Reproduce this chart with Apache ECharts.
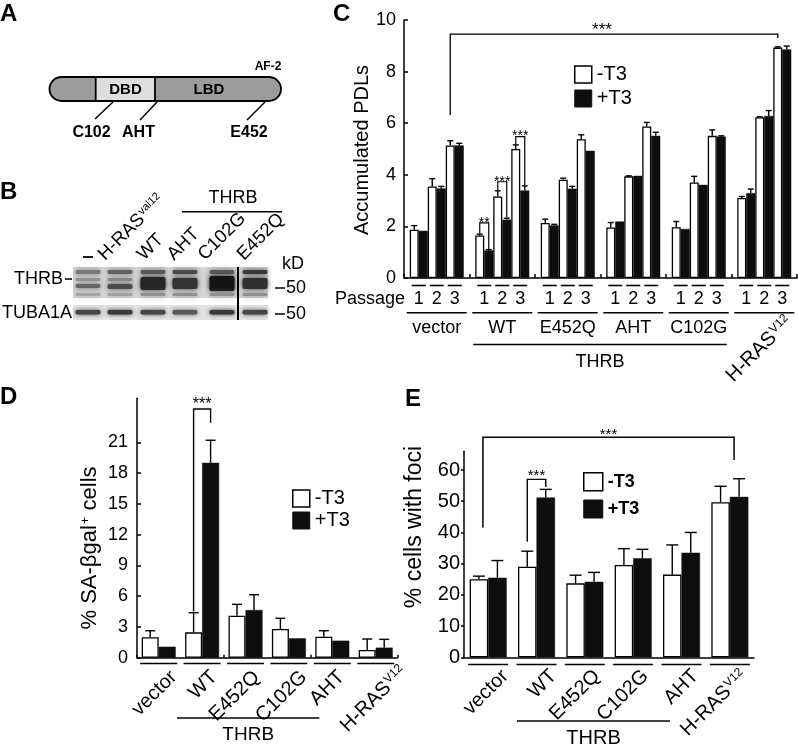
<!DOCTYPE html>
<html><head><meta charset="utf-8">
<script src="https://cdn.jsdelivr.net/npm/echarts@6.0.0/dist/echarts.min.js"></script>
<style>html,body{margin:0;padding:0;background:#fff}#c{width:798px;height:744px}</style>
</head><body><div id="c"></div>
<script>
const FONT = '"Liberation Sans", Arial, Helvetica, sans-serif';

// ---------- Panel C data ----------
const groupsC = ['vector', 'WT', 'E452Q', 'AHT', 'C102G', 'H-RAS'];
const passageLabels = ['1', '2', '3'];
const cMinusP1 = [1.87, 1.65, 2.13, 1.96, 1.97, 3.10];
const cPlusP1  = [1.83, 1.07, 2.04, 2.19, 1.90, 3.29];
const cMinusP2 = [3.55, 3.16, 3.81, 3.94, 3.70, 6.23];
const cPlusP2  = [3.47, 2.26, 3.46, 3.96, 3.61, 6.28];
const cMinusP3 = [5.14, 5.00, 5.38, 5.87, 5.51, 8.93];
const cPlusP3  = [5.14, 3.39, 4.93, 5.51, 5.48, 8.86];
const cMinusP1Err = [0.16, 0.05, 0.15, 0.19, 0.22, 0.06];
const cPlusP1Err  = [0, 0.03, 0.04, 0, 0, 0.16];
const cMinusP2Err = [0.30, 0.22, 0.06, 0.02, 0.24, 0.02];
const cPlusP2Err  = [0.08, 0.06, 0.09, 0, 0, 0.21];
const cMinusP3Err = [0.18, 0.16, 0.17, 0.16, 0.23, 0.03];
const cPlusP3Err  = [0.08, 0.18, 0, 0.14, 0.03, 0.13];

// ---------- Panel D data ----------
const groupsDE = ['vector', 'WT', 'E452Q', 'C102G', 'AHT', 'H-RAS'];
const dMinus    = [2.0, 2.47, 4.1, 2.8, 2.05, 0.75];
const dMinusErr = [0.63, 1.92, 1.1, 1.04, 0.58, 1.07];
const dPlus     = [1.07, 19.0, 4.65, 1.89, 1.66, 0.98];
const dPlusErr  = [0, 2.2, 1.49, 0, 0, 0.81];
const dTicks = [0, 3, 6, 9, 12, 15, 18, 21];

// ---------- Panel E data ----------
const eMinus    = [25.0, 29.0, 23.7, 29.6, 26.5, 49.7];
const eMinusErr = [1.0, 5.0, 2.6, 5.2, 9.5, 5.1];
const ePlus     = [25.5, 51.2, 24.2, 31.7, 33.5, 51.4];
const ePlusErr  = [5.5, 2.6, 3.0, 2.9, 6.5, 5.8];
const eTicks = [0, 10, 20, 30, 40, 50, 60];

const WHITE = {color: '#fff', borderColor: '#000', borderWidth: 1.3};
const BLACK = {color: '#0e0e0e', borderColor: '#0e0e0e', borderWidth: 0.5};
const BW_C = 9, BW_D = 17, BW_E = 18.5;

function errSeries(grid, rows, bw, n, cap) {
  return {
    type: 'custom', name: 'err' + grid, xAxisIndex: grid, yAxisIndex: grid, z: 5, silent: true, clip: false,
    encode: {x: 0, y: 1}, data: rows,
    renderItem(params, api) {
      const cat = api.value(0), v = api.value(1), e = api.value(2), pos = api.value(3);
      if (!(e > 0)) return;
      const base = api.coord([cat, v]), top = api.coord([cat, v + e]);
      const x = base[0] - n * bw / 2 + bw * (pos + 0.5);
      return {type: 'group', children: [
        {type: 'line', shape: {x1: x, y1: base[1], x2: x, y2: top[1]}, style: {stroke: '#000', lineWidth: 1.4}},
        {type: 'line', shape: {x1: x - cap / 2, y1: top[1], x2: x + cap / 2, y2: top[1]}, style: {stroke: '#000', lineWidth: 1.4}}
      ]};
    }
  };
}
function rows(vals, errs, pos) { return vals.map((v, i) => [i, v, errs[i], pos]); }

const cSets = [
  [cMinusP1, cMinusP1Err, '-T3', WHITE], [cPlusP1, cPlusP1Err, '+T3', BLACK],
  [cMinusP2, cMinusP2Err, '-T3', WHITE], [cPlusP2, cPlusP2Err, '+T3', BLACK],
  [cMinusP3, cMinusP3Err, '-T3', WHITE], [cPlusP3, cPlusP3Err, '+T3', BLACK]
];

const series = [];
cSets.forEach((s, k) => series.push({type: 'bar', name: s[2], xAxisIndex: 0, yAxisIndex: 0, data: s[0], barWidth: BW_C, barGap: '0%', itemStyle: s[3], z: 2, silent: true}));
let cErrRows = [];
cSets.forEach((s, k) => { cErrRows = cErrRows.concat(rows(s[0], s[1], k)); });
series.push(errSeries(0, cErrRows, BW_C, 6, 6));

series.push({type: 'bar', name: '-T3', xAxisIndex: 1, yAxisIndex: 1, data: dMinus, barWidth: BW_D, barGap: '0%', itemStyle: WHITE, z: 2, silent: true});
series.push({type: 'bar', name: '+T3', xAxisIndex: 1, yAxisIndex: 1, data: dPlus, barWidth: BW_D, barGap: '0%', itemStyle: BLACK, z: 2, silent: true});
series.push(errSeries(1, rows(dMinus, dMinusErr, 0).concat(rows(dPlus, dPlusErr, 1)), BW_D, 2, 10));

series.push({type: 'bar', name: '-T3', xAxisIndex: 2, yAxisIndex: 2, data: eMinus, barWidth: BW_E, barGap: '0%', itemStyle: WHITE, z: 2, silent: true});
series.push({type: 'bar', name: '+T3', xAxisIndex: 2, yAxisIndex: 2, data: ePlus, barWidth: BW_E, barGap: '0%', itemStyle: BLACK, z: 2, silent: true});
series.push(errSeries(2, rows(eMinus, eMinusErr, 0).concat(rows(ePlus, ePlusErr, 1)), BW_E, 2, 12));

const axLine = {show: true, lineStyle: {color: '#000', width: 1.5}};
const legendData = [
  {name: '-T3', itemStyle: {color: '#fff', borderColor: '#000', borderWidth: 1.5}},
  {name: '+T3', itemStyle: {color: '#0e0e0e', borderColor: '#0e0e0e', borderWidth: 1}}
];

const option = {
  animation: false,
  backgroundColor: '#fff',
  textStyle: {fontFamily: FONT, color: '#000'},
  grid: [
    {left: 404, top: 20, width: 393, height: 258},
    {left: 137, top: 398.2, width: 260.4, height: 259.5},
    {left: 464, top: 451.3, width: 290, height: 206}
  ],
  xAxis: [
    {gridIndex: 0, type: 'category', data: groupsC, axisLine: axLine,
     axisTick: {show: true, inside: true, length: 4, lineStyle: {color: '#000', width: 1.5}}, axisLabel: {show: false}},
    {gridIndex: 1, type: 'category', data: groupsDE, axisLine: axLine,
     axisTick: {show: true, inside: true, length: 3, lineStyle: {color: '#000', width: 1.5}}, axisLabel: {show: false}},
    {gridIndex: 2, type: 'category', data: groupsDE, axisLine: axLine,
     axisTick: {show: false}, axisLabel: {show: false}}
  ],
  yAxis: [
    {gridIndex: 0, type: 'value', min: 0, max: 10, interval: 2, axisLine: axLine, splitLine: {show: false},
     axisTick: {show: true, inside: true, length: 4, lineStyle: {color: '#000', width: 1.5}},
     axisLabel: {fontSize: 18, color: '#000', margin: 8, fontFamily: FONT}},
    {gridIndex: 1, type: 'value', min: 0, max: 25.3, interval: 3, axisLine: axLine, splitLine: {show: false},
     axisTick: {show: true, inside: true, length: 4, customValues: dTicks, lineStyle: {color: '#000', width: 1.5}},
     axisLabel: {fontSize: 18, color: '#000', margin: 9, fontFamily: FONT, customValues: dTicks}},
    {gridIndex: 2, type: 'value', min: 0, max: 66, interval: 10, axisLine: axLine, splitLine: {show: false},
     axisTick: {show: true, inside: false, length: 3, customValues: eTicks, lineStyle: {color: '#000', width: 1.5}},
     axisLabel: {fontSize: 20, color: '#000', margin: 4, fontFamily: FONT, customValues: eTicks}}
  ],
  legend: [
    {data: legendData, orient: 'vertical', left: 569, top: 59.5, itemWidth: 17, itemHeight: 17, itemGap: 4, icon: 'rect',
     selectedMode: false, textStyle: {fontSize: 20, fontFamily: FONT, color: '#000'}},
    {data: legendData, orient: 'vertical', left: 287, top: 483.5, itemWidth: 17, itemHeight: 17, itemGap: 2, icon: 'rect',
     selectedMode: false, textStyle: {fontSize: 20, fontFamily: FONT, color: '#000'}},
    {data: legendData, orient: 'vertical', left: 578, top: 467, itemWidth: 19, itemHeight: 18, itemGap: 8, icon: 'rect',
     selectedMode: false, textStyle: {fontSize: 18, fontWeight: 'bold', fontFamily: FONT, color: '#000'}}
  ],
  series: series
};

const chart = echarts.init(document.getElementById('c'));
chart.setOption(option);

// ---------- annotation helpers ----------
function supRich(size, supSize) {
  return {b: {fontSize: size, fontFamily: FONT, fill: '#000'},
          s: {fontSize: supSize, fontFamily: FONT, fill: '#000', verticalAlign: 'top', padding: [0, 0, 0, 1]}};
}
function txt(x, y, text, o) {
  o = o || {};
  const size = o.size || 18;
  const st = {text: text, fontSize: size, fontFamily: FONT, fontWeight: o.bold ? 'bold' : 'normal',
    fill: o.fill || '#000', align: o.align || 'center', verticalAlign: o.va || 'middle'};
  if (text.indexOf('{') >= 0) st.rich = supRich(size, o.sup || Math.round(size * 0.62));
  return {type: 'text', x: x, y: y, rotation: o.rot || 0, z: 20, style: st};
}
function ln(x1, y1, x2, y2, w, c) { return {type: 'line', z: 20, shape: {x1, y1, x2, y2}, style: {stroke: c || '#000', lineWidth: w || 1.5}}; }
function pl(points, w) { return {type: 'polyline', z: 20, shape: {points}, style: {stroke: '#000', fill: null, lineWidth: w || 1.3}}; }
function rc(x, y, w, h, fill, o) {
  o = o || {};
  return {type: 'rect', z: o.z || 15, shape: {x, y, width: w, height: h, r: o.r || 0},
    style: {fill: fill, stroke: o.stroke || null, lineWidth: o.lw || 0, shadowBlur: o.blur || 0, shadowColor: o.blur ? fill : 'transparent'}};
}
const px = (g, cat, val) => chart.convertToPixel({gridIndex: g}, [cat, val]);
const catX = (g, i) => px(g, i, 0)[0];
const barX = (g, i, pos, n, bw) => catX(g, i) - n * bw / 2 + bw * (pos + 0.5);
const yv = (g, v) => px(g, 0, v)[1];
const supLabel = g => g === 'H-RAS' ? '{b|H-RAS}{s|V12}' : g;

const G = [];

// ---------- Panel letters ----------
G.push(txt(0, 14, 'A', {size: 24, bold: true, align: 'left'}));
G.push(txt(0, 192, 'B', {size: 24, bold: true, align: 'left'}));
G.push(txt(333, 14, 'C', {size: 24, bold: true, align: 'left'}));
G.push(txt(0, 397, 'D', {size: 24, bold: true, align: 'left'}));
G.push(txt(405, 399, 'E', {size: 24, bold: true, align: 'left'}));

// ---------- Panel A: domain diagram ----------
G.push(rc(49.5, 77, 231.5, 24, '#9c9c9c', {r: 12, stroke: '#000', lw: 1.8}));
G.push(rc(95.7, 77, 59.3, 24, '#dedede', {stroke: '#000', lw: 1.8, z: 16}));
G.push(txt(125.5, 89.5, 'DBD', {size: 15, bold: true}));
G.push(txt(209, 89.5, 'LBD', {size: 15, bold: true}));
G.push(txt(268, 67, 'AF-2', {size: 12, bold: true}));
G.push(ln(113, 102, 95, 119, 1.5));
G.push(ln(157, 102, 140, 120, 1.5));
G.push(ln(265, 102, 247, 120, 1.5));
G.push(txt(91.5, 133, 'C102', {size: 16, bold: true}));
G.push(txt(138.5, 133, 'AHT', {size: 16, bold: true}));
G.push(txt(249, 133, 'E452', {size: 16, bold: true}));

// ---------- Panel B: western blot ----------
const laneX = [88, 120, 153, 185, 222, 255];
G.push(rc(73, 267, 195, 31, '#d6d6d6', {z: 12}));
G.push(rc(73, 305, 195, 15, '#e2e2e2', {z: 12}));
const thrbBands = [
  [[270, 4, '#777'], [278, 3, '#959595'], [284, 4, '#666'], [293, 3, '#a4a4a4']],
  [[270, 4, '#606060'], [278, 3, '#8a8a8a'], [284, 5, '#4a4a4a'], [293, 3, '#a0a0a0']],
  [[270, 4, '#5a5a5a'], [277, 13, '#262626'], [293, 3, '#909090']],
  [[270, 4, '#4a4a4a'], [278, 11, '#333'], [293, 3, '#909090']],
  [[270, 4, '#5a5a5a'], [276, 15, '#141414'], [293, 3, '#909090']],
  [[270, 4, '#3a3a3a'], [278, 11, '#303030'], [293, 3, '#909090']]
];
thrbBands.forEach((bands, i) => bands.forEach(b => G.push(rc(laneX[i] - 12.5, b[0], 25, b[1], b[2], {r: 2, blur: 5, z: 13}))));
const tubaCol = ['#444', '#3a3a3a', '#444', '#5a5a5a', '#3a3a3a', '#444'];
laneX.forEach((x, i) => G.push(rc(x - 12.5, 310, 25, 4.5, tubaCol[i], {r: 2, blur: 4, z: 13})));
G.push(ln(238, 267, 238, 320, 2));
G.push(txt(63, 279, 'THRB', {size: 18, align: 'right'}));
G.push(ln(65, 279, 72, 279, 1.5));
G.push(txt(72, 313, 'TUBA1A', {size: 18, align: 'right'}));
G.push(txt(282, 264, 'kD', {size: 18, align: 'left'}));
G.push(ln(275, 288, 285, 288, 1.5));
G.push(txt(286, 288, '50', {size: 18, align: 'left'}));
G.push(ln(275, 314, 285, 314, 1.5));
G.push(txt(286, 314, '50', {size: 18, align: 'left'}));
G.push(ln(83, 257, 93, 257, 1.8));
const bLaneLabels = [['{b|H-RAS}{s|val12}', 108], ['WT', 147], ['AHT', 177], ['C102G', 208], ['E452Q', 247]];
bLaneLabels.forEach(l => G.push(txt(l[1], 264, l[0], {size: 18.5, sup: 11, align: 'left', va: 'bottom', rot: Math.PI / 4})));
G.push(ln(182, 211.7, 282, 211.7, 1.5));
G.push(txt(233, 198, 'THRB', {size: 18}));

// ---------- Panel C annotations ----------
G.push(txt(362.5, 150, 'Accumulated PDLs', {size: 20, rot: Math.PI / 2}));
G.push(txt(405, 299, 'Passage', {size: 18, align: 'right'}));
groupsC.forEach((g, i) => {
  const cx = catX(0, i);
  passageLabels.forEach((p, k) => {
    const x = cx - 18 + 18 * k;
    G.push(ln(x - 7, 285.5, x + 7, 285.5, 1.6));
    G.push(txt(x, 299, p, {size: 18}));
  });
  G.push(ln(cx - 30, 312.7, cx + 30, 312.7, 1.5));
  if (i < 5) G.push(txt(cx, 328, g, {size: 18}));
});
G.push(txt(catX(0, 5) + 18, 312, supLabel('H-RAS'), {size: 20, sup: 12, align: 'right', va: 'top', rot: Math.PI / 4}));
{
  const x1 = catX(0, 1) - 29, x2 = catX(0, 4) + 28;
  G.push(ln(x1, 344.5, x2, 344.5, 1.5));
  G.push(txt((x1 + x2) / 2, 362, 'THRB', {size: 18}));
}
// significance brackets C
{
  const xl = barX(0, 0, 4, 6, BW_C), xr = barX(0, 5, 4, 6, BW_C), yt = yv(0, 9.45);
  G.push(pl([[xl, yv(0, 6.32)], [xl, yt], [xr, yt], [xr, yv(0, 9.3)]]));
  G.push(txt((xl + xr) / 2 - 12, yt - 4, '***', {size: 17}));
  const wt = [[0, 1.72, 1.12, 2.14, '**'], [2, 3.38, 2.35, 3.73, '***'], [4, 5.19, 3.6, 5.48, '***']];
  wt.forEach(b => {
    const a = barX(0, 1, b[0], 6, BW_C), c = barX(0, 1, b[0] + 1, 6, BW_C), t = yv(0, b[3]);
    G.push(pl([[a, yv(0, b[1])], [a, t], [c, t], [c, yv(0, b[2])]], 1.2));
    G.push(txt((a + c) / 2, t, b[4], {size: 14}));
  });
}

// ---------- Panel D annotations ----------
G.push(txt(90, 548, '{b|% SA-βgal}{s|+}{b| cells}', {size: 22, sup: 13, rot: Math.PI / 2}));
const dLabOff = [8, 5, 4, 8, 2, 21];
groupsDE.forEach((g, i) => {
  const cx = catX(1, i);
  G.push(ln(cx - 18.5, 663.5, cx + 18.5, 663.5, 1.6));
  const ay = g === 'H-RAS' ? 662 : 667;
  G.push(txt(cx + dLabOff[i], ay, supLabel(g), {size: 20, sup: 12, align: 'right', va: 'top', rot: Math.PI / 4}));
});
{
  const x1 = catX(1, 1) - 25, x2 = catX(1, 4) - 13;
  G.push(ln(x1, 718, x2, 718, 1.5));
  G.push(txt((x1 + x2) / 2, 735, 'THRB', {size: 19}));
  const a = barX(1, 1, 0, 2, BW_D), c = barX(1, 1, 1, 2, BW_D), t = yv(1, 24.25);
  G.push(pl([[a, yv(1, 4.5)], [a, t], [c, t], [c, yv(1, 22.9)]], 1.4));
  G.push(txt((a + c) / 2, t - 4.5, '***', {size: 16}));
}

// ---------- Panel E annotations ----------
G.push(txt(415, 527, '% cells with foci', {size: 23, rot: Math.PI / 2}));
const eLabOff = [10, 10, 5, 5, 7, 7];
groupsDE.forEach((g, i) => {
  const cx = catX(2, i);
  G.push(ln(cx - 20, 664.5, cx + 20, 664.5, 1.6));
  G.push(txt(cx + eLabOff[i], 666, supLabel(g), {size: 20, sup: 12, align: 'right', va: 'top', rot: Math.PI / 4}));
});
{
  const x1 = catX(2, 1) - 19.5, x2 = catX(2, 4) - 11.5;
  G.push(ln(x1, 721, x2, 721, 1.5));
  G.push(txt((x1 + x2) / 2, 738, 'THRB', {size: 20}));
  const xl = barX(2, 0, 0, 2, BW_E) + 4, xr = barX(2, 5, 1, 2, BW_E) - 5, yt = yv(2, 70.5);
  G.push(pl([[xl, yv(2, 41.6)], [xl, yt], [xr, yt], [xr, yv(2, 63.2)]], 1.5));
  G.push(txt((xl + xr) / 2, yt - 2, '***', {size: 15}));
  const a = barX(2, 1, 0, 2, BW_E), c = barX(2, 1, 1, 2, BW_E), t = yv(2, 57.0);
  G.push(pl([[a, yv(2, 37.0)], [a, t], [c, t], [c, yv(2, 54.6)]], 1.4));
  G.push(txt((a + c) / 2, t - 4, '***', {size: 15}));
}

chart.setOption({graphic: {elements: G}});
</script></body></html>
